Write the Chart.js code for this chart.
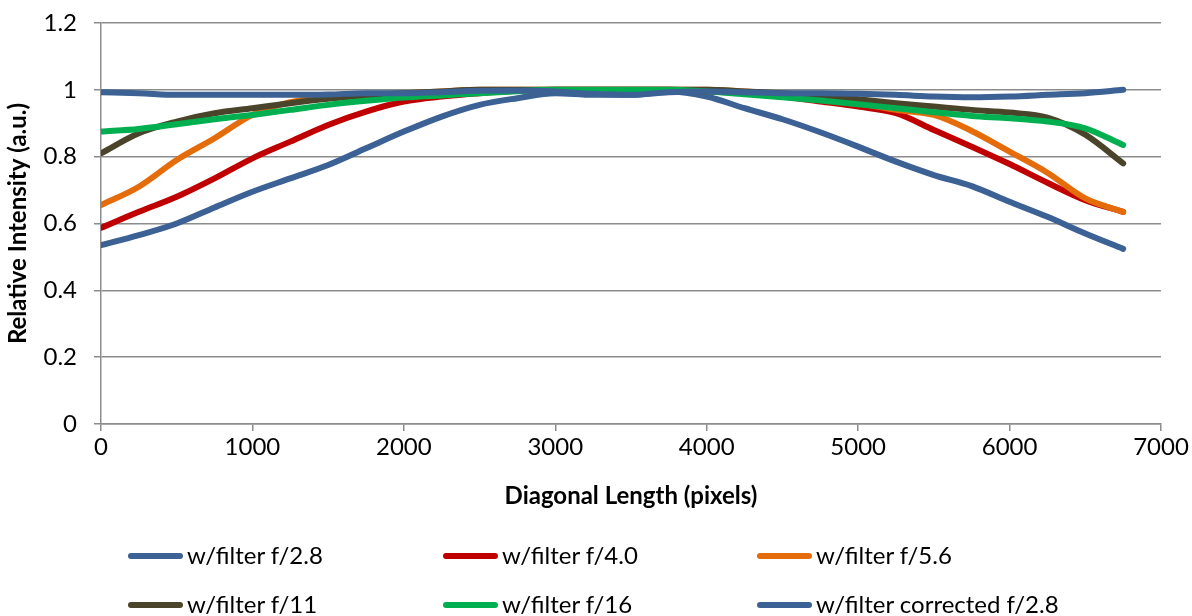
<!DOCTYPE html>
<html>
<head>
<meta charset="UTF-8">
<title>Relative Intensity</title>
<script src="https://cdn.jsdelivr.net/npm/chart.js@4.4.1/dist/chart.umd.min.js"></script>
<style>
  body { margin: 0; background: #fff; }
  #wrap { position: relative; width: 1192px; height: 616px; }
  #legend { position: absolute; left: 0; top: 0; font-family: Lato, sans-serif; font-size: 24px; color: #000; }
  .item { position: absolute; height: 30px; line-height: 30px; white-space: nowrap; }
  .item span.swatch { position: absolute; left: 0; top: 13px; width: 55px; height: 6px; border-radius: 3px; }
  .item span.txt { position: absolute; left: 59px; top: 0; }
</style>
</head>
<body>
<div id="wrap">
  <canvas id="grafico" width="1192" height="616"></canvas>
  <div id="legend"></div>
</div>
<script>
// x positions along the diagonal (pixels)
const xValues = [0, 250, 500, 750, 1000, 1250, 1500, 1750, 2000, 2250, 2500, 2750, 3000, 3250,
                 3500, 3750, 4000, 4250, 4500, 4750, 5000, 5250, 5500, 5750, 6000, 6250, 6500, 6750];

const f28 = [0.535, 0.565, 0.600, 0.648, 0.695, 0.735, 0.775, 0.825, 0.875, 0.920, 0.955, 0.975, 0.990, 0.985,
             0.985, 0.995, 0.980, 0.945, 0.912, 0.873, 0.830, 0.785, 0.745, 0.712, 0.665, 0.620, 0.570, 0.524];
const f40 = [0.587, 0.635, 0.680, 0.735, 0.795, 0.845, 0.895, 0.935, 0.965, 0.980, 0.990, 0.997, 1.000, 1.000,
             1.000, 1.000, 0.995, 0.990, 0.980, 0.965, 0.950, 0.930, 0.880, 0.830, 0.778, 0.722, 0.670, 0.635];
const f56 = [0.655, 0.710, 0.790, 0.855, 0.925, 0.963, 0.977, 0.985, 0.990, 0.995, 1.000, 1.000, 1.000, 1.000,
             1.000, 1.000, 1.000, 0.995, 0.985, 0.975, 0.960, 0.940, 0.925, 0.877, 0.815, 0.752, 0.675, 0.635];
const f11 = [0.810, 0.870, 0.905, 0.930, 0.945, 0.960, 0.973, 0.983, 0.990, 0.995, 1.000, 1.000, 1.000, 1.000,
             1.000, 1.000, 1.000, 0.995, 0.990, 0.983, 0.972, 0.960, 0.950, 0.940, 0.932, 0.917, 0.866, 0.780];
const f16 = [0.875, 0.883, 0.897, 0.912, 0.925, 0.940, 0.955, 0.967, 0.977, 0.983, 0.990, 0.996, 1.000, 1.000,
             1.000, 1.000, 0.995, 0.987, 0.978, 0.968, 0.957, 0.945, 0.933, 0.922, 0.915, 0.905, 0.885, 0.835];
const corr28 = [0.993, 0.990, 0.985, 0.985, 0.985, 0.985, 0.986, 0.990, 0.990, 0.993, 0.997, 0.998, 0.995, 0.988,
                0.985, 0.993, 0.995, 0.993, 0.990, 0.990, 0.988, 0.985, 0.980, 0.978, 0.980, 0.985, 0.990, 1.000];

const seriesNames = ["w/filter f/2.8", "w/filter f/4.0", "w/filter f/5.6",
                     "w/filter f/11", "w/filter f/16", "w/filter corrected f/2.8"];
const seriesValues = [f28, f40, f56, f11, f16, corr28];
const seriesColors = ["#3B6195", "#C00000", "#E46C0A", "#4A452A", "#00B050", "#3B6195"];

const xTicks = [0, 1000, 2000, 3000, 4000, 5000, 6000, 7000];
const xTickLabels = ["0", "1000", "2000", "3000", "4000", "5000", "6000", "7000"];
const yTicks = [0, 0.2, 0.4, 0.6, 0.8, 1, 1.2];
const yTickLabels = ["0", "0.2", "0.4", "0.6", "0.8", "1", "1.2"];

const gridGray = "#8c8c8c";
const tickFont = { family: "Lato", size: 24 };
const titleFont = { family: "Lato", size: 24, weight: "bold" };

const datasets = seriesNames.map(function (name, i) {
  return {
    label: name,
    data: xValues.map(function (x, j) { return { x: x, y: seriesValues[i][j] }; }),
    borderColor: seriesColors[i],
    backgroundColor: seriesColors[i],
    borderWidth: 6,
    borderCapStyle: "round",
    borderJoinStyle: "round",
    pointRadius: 0,
    cubicInterpolationMode: "monotone",
    order: seriesNames.length - i
  };
});

var ctx = document.getElementById("grafico");
var chart = new Chart(ctx, {
  type: "line",
  data: { datasets: datasets },
  options: {
    responsive: false,
    animation: false,
    layout: { padding: { left: 0, top: 23, right: 31, bottom: 105 } },
    plugins: { legend: { display: false }, tooltip: { enabled: false } },
    scales: {
      x: {
        type: "linear",
        min: 0, max: 7000,
        afterBuildTicks: function (s) { s.ticks = xTicks.map(function (v) { return { value: v }; }); },
        afterFit: function (s) { s.height = 87; s.paddingLeft = 0; s.paddingRight = 0; },
        grid: { drawOnChartArea: false, drawTicks: true, tickLength: 7, color: gridGray, lineWidth: 1.5 },
        border: { display: true, color: gridGray, width: 1.5 },
        ticks: {
          font: tickFont, color: "#000", padding: 2, maxRotation: 0,
          callback: function (v) { return xTickLabels[xTicks.indexOf(v)]; }
        },
        title: { display: true, text: "Diagonal Length (pixels)", font: titleFont, color: "#000", padding: 0 }
      },
      y: {
        min: 0, max: 1.2,
        afterBuildTicks: function (s) { s.ticks = yTicks.map(function (v) { return { value: v }; }); },
        afterFit: function (s) { s.width = 101; s.paddingTop = 0; s.paddingBottom = 0; },
        grid: { color: gridGray, lineWidth: 1.5, tickLength: 7 },
        border: { display: true, color: gridGray, width: 1.5 },
        ticks: {
          font: tickFont, color: "#000", padding: 17,
          callback: function (v) { return yTickLabels[yTicks.indexOf(v)]; }
        },
        title: { display: true, text: "Relative Intensity (a.u.)", font: titleFont, color: "#000", padding: { top: 4 } }
      }
    }
  }
});

// legend in 3 fixed columns, 2 rows
var legendX = [128, 443, 757];
var legendY = [540, 589];
var legend = document.getElementById("legend");
chart.data.datasets.forEach(function (ds, i) {
  var div = document.createElement("div");
  div.className = "item";
  div.style.left = legendX[i % 3] + "px";
  div.style.top = legendY[Math.floor(i / 3)] + "px";
  div.innerHTML = '<span class="swatch" style="background:' + ds.borderColor + '"></span><span class="txt"></span>';
  div.querySelector(".txt").textContent = ds.label;
  legend.appendChild(div);
});
</script>
</body>
</html>
